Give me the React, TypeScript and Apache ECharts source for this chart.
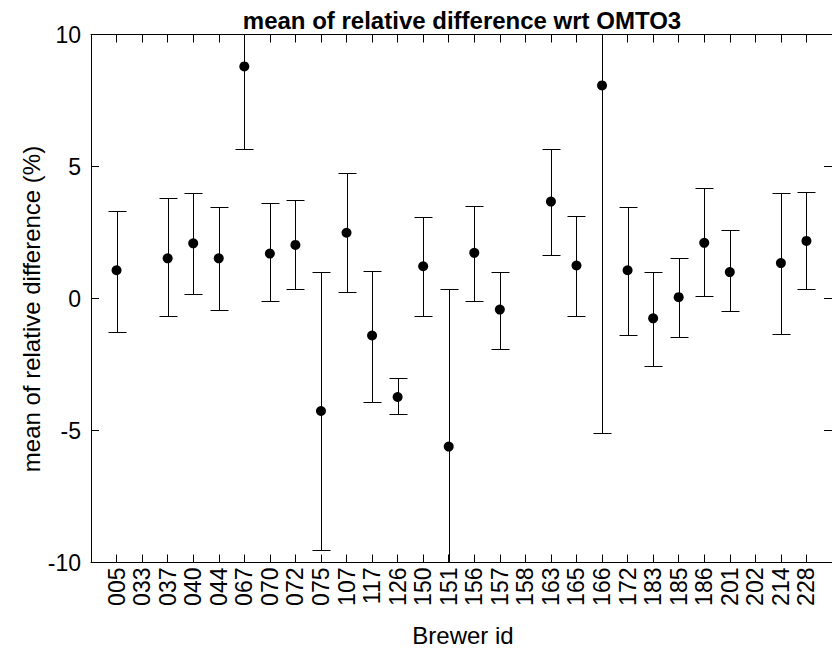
import React, { useEffect, useRef } from "react";
import * as echarts from "echarts";

const categories = ["005","033","037","040","044","067","070","072","075","107","117","126","150","151","156","157","158","163","165","166","172","183","185","186","201","202","214","228"];
const means = [1.07, null, 1.52, 2.09, 1.52, 8.79, 1.70, 2.03, -4.26, 2.49, -1.40, -3.73, 1.22, -5.61, 1.73, -0.42, null, 3.67, 1.25, 8.07, 1.07, -0.75, 0.05, 2.11, 1.00, null, 1.34, 2.18];
const lowers = [-1.26, null, -0.67, 0.16, -0.42, 5.68, -0.10, 0.36, -9.51, 0.23, -3.92, -4.38, -0.67, -11.58, -0.10, -1.91, null, 1.65, -0.67, -5.09, -1.40, -2.55, -1.45, 0.10, -0.49, null, -1.33, 0.36];
const uppers = [3.33, null, 3.79, 3.99, 3.47, 11.9, 3.61, 3.72, 1.00, 4.76, 1.06, -3.02, 3.08, 0.36, 3.52, 1.01, null, 5.67, 3.14, 21.2, 3.47, 1.00, 1.53, 4.18, 2.58, null, 4.00, 4.05];
const yTicks = [-10, -5, 0, 5, 10];

const titleText = "mean of relative difference wrt OMTO3";
const xName = "Brewer id";
const yName = "mean of relative difference (%)";

const TICKFONT = "'Liberation Sans Narrow', 'Liberation Sans', Arial, sans-serif";
const SANS = "'Liberation Sans', Arial, sans-serif";

export default function App() {
  const ref = useRef<HTMLDivElement>(null);
  useEffect(() => {
    if (!ref.current) return;
    const chart = echarts.init(ref.current, undefined, { renderer: "svg" });
    const barData: number[][] = [];
    const pointData: number[][] = [];
    categories.forEach((_, i) => {
      if (means[i] !== null) pointData.push([i + 1, means[i] as number]);
      if (lowers[i] !== null && uppers[i] !== null) barData.push([i + 1, lowers[i] as number, uppers[i] as number]);
    });
    const grid = { left: 91, top: 34.5, width: 744, height: 528 };
    const axisLine = { show: true, onZero: false, lineStyle: { color: "#000", width: 1 } };
    const tick = { show: true, inside: true, length: 8, lineStyle: { color: "#000", width: 1 } };
    chart.setOption({
      animation: false,
      backgroundColor: "#fff",
      grid,
      xAxis: [
        {
          type: "value", min: 0, max: 29, interval: 1, position: "bottom",
          axisLine, splitLine: { show: false }, axisTick: tick,
          axisLabel: {
            rotate: 90, margin: 5, color: "#000", fontFamily: TICKFONT, fontSize: 23,
            formatter: (v: number) => categories[v - 1] ?? "",
          },
        },
        {
          type: "value", min: 0, max: 29, interval: 1, position: "top",
          axisLine, splitLine: { show: false }, axisTick: tick,
          axisLabel: { show: false },
        },
      ],
      yAxis: [
        {
          type: "value", min: yTicks[0], max: yTicks[yTicks.length - 1], interval: 5, position: "left",
          axisLine, splitLine: { show: false }, axisTick: tick,
          axisLabel: { margin: 10, color: "#000", fontFamily: TICKFONT, fontSize: 23 },
        },
        {
          type: "value", min: yTicks[0], max: yTicks[yTicks.length - 1], interval: 5, position: "right",
          axisLine, splitLine: { show: false }, axisTick: tick,
          axisLabel: { show: false },
        },
      ],
      graphic: [
        { type: "text", x: 462, y: 20.5, style: { text: titleText, fill: "#000", font: `bold 24px ${SANS}`, align: "center", verticalAlign: "middle" } },
        { type: "text", x: 463, y: 635.5, style: { text: xName, fill: "#000", font: `24px ${SANS}`, align: "center", verticalAlign: "middle" } },
        { type: "text", x: 31, y: 309, rotation: Math.PI / 2, style: { text: yName, fill: "#000", font: `24px ${SANS}`, align: "center", verticalAlign: "middle" } },
      ],
      series: [
        {
          type: "custom",
          xAxisIndex: 0, yAxisIndex: 0,
          clip: true,
          data: barData,
          renderItem: (params: any, api: any) => {
            const x = api.value(0);
            const lo = api.coord([x, api.value(1)]);
            const hi = api.coord([x, api.value(2)]);
            const px = Math.round(lo[0]) + 0.5;
            const yl = Math.round(lo[1]) + 0.5;
            const yh = Math.round(hi[1]) + 0.5;
            const st = { stroke: "#000", lineWidth: 1 };
            return {
              type: "group",
              children: [
                { type: "line", shape: { x1: px, y1: yl, x2: px, y2: yh }, style: st },
                { type: "line", shape: { x1: px - 9, y1: yl, x2: px + 9, y2: yl }, style: st },
                { type: "line", shape: { x1: px - 9, y1: yh, x2: px + 9, y2: yh }, style: st },
              ],
            };
          },
        },
        {
          type: "scatter",
          xAxisIndex: 0, yAxisIndex: 0,
          symbol: "circle", symbolSize: 10,
          itemStyle: { color: "#000", opacity: 1 },
          data: pointData,
        },
      ],
    });
    return () => chart.dispose();
  }, []);
  return <div ref={ref} style={{ position: "absolute", left: 0, top: 0, width: 832, height: 648, background: "#fff" }} />;
}
